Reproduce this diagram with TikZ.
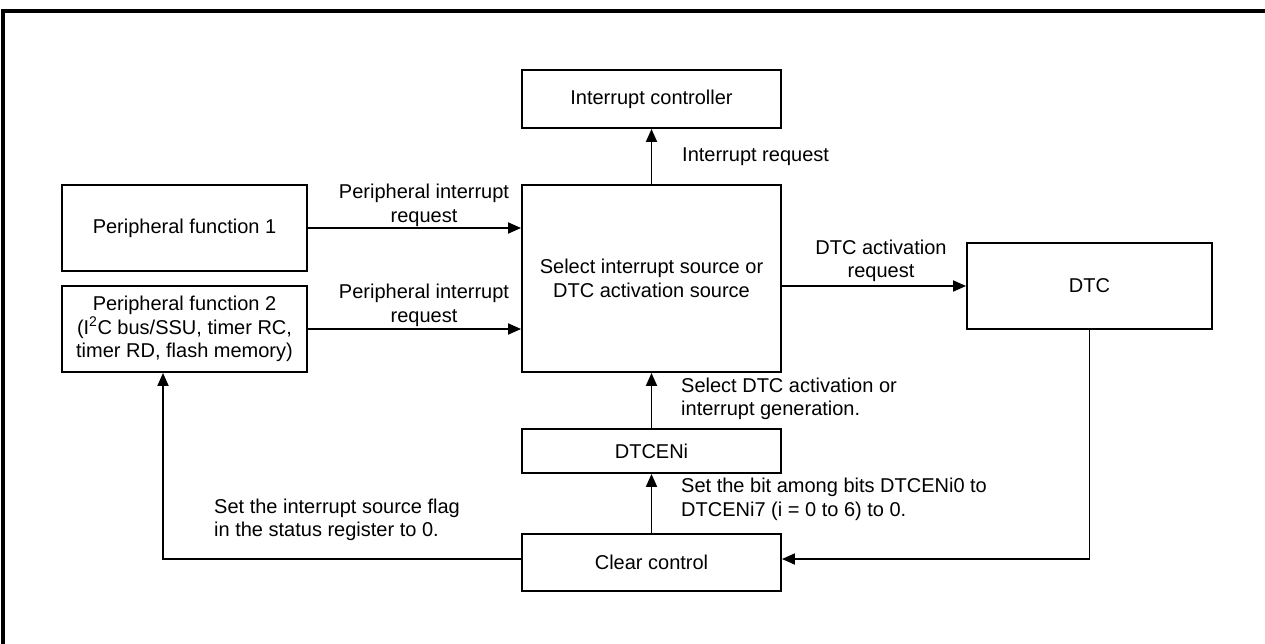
\documentclass[tikz,border=0pt]{standalone}
\usepackage{fontspec}
\setmainfont{Liberation Sans}
\usetikzlibrary{arrows.meta}
\begin{document}
\begin{tikzpicture}[x=1pt,y=-1pt,
  box/.style={draw,line width=1.9pt,rectangle,inner sep=0pt,align=center,font=\fontsize{20}{23.5}\selectfont},
  lbl/.style={inner sep=0pt,font=\fontsize{20}{23.5}\selectfont},
  arr/.style={line width=1.9pt,-{Triangle[length=13pt,width=11pt]}},
  frame/.style={line width=3.5pt}]
\useasboundingbox (0,0) rectangle (1265,643);
\begin{scope}
\clip (0,0) rectangle (1265,643);
\draw[frame] (3,660) -- (3,11) -- (1280,11);
\end{scope}
% boxes
\node[box,minimum width=259pt,minimum height=58pt] (ic) at (651.5,99) {Interrupt controller};
\node[box,minimum width=259pt,minimum height=187pt] (sel) at (651.5,278.5) {Select interrupt source or\\DTC activation source};
\node[box,minimum width=245pt,minimum height=86pt] (pf1) at (184.5,228) {Peripheral function 1};
\node[box,minimum width=245pt,minimum height=86pt] (pf2) at (184.5,329) {Peripheral function 2\\(I\textsuperscript{2}C bus/SSU, timer RC,\\timer RD, flash memory)};
\node[box,minimum width=245pt,minimum height=86pt] (dtc) at (1089.5,286) {DTC};
\node[box,minimum width=259pt,minimum height=44pt] (den) at (651.5,451) {DTCENi};
\node[box,minimum width=259pt,minimum height=57pt] (clr) at (651.5,562.5) {Clear control};
% connectors
\draw[arr] (pf1.east) -- (pf1.east -| sel.west);
\draw[arr] (pf2.east) -- (pf2.east -| sel.west);
\draw[arr] (dtc.west -| sel.east) -- (dtc.west);
\draw[arr] (sel.north) -- (ic.south);
\draw[arr] (den.north) -- (sel.south);
\draw[arr] (clr.north) -- (den.south);
\draw[arr] (dtc.south) |- ([yshift=3.5pt]clr.east);
\draw[arr] ([yshift=3.5pt]clr.west) -| ([xshift=-21.5pt]pf2.south);
% labels
\node[lbl,anchor=west] (l1) at (682,157) {Interrupt request};
\node[lbl,align=center] (l2) at (424,205.5) {Peripheral interrupt\\request};
\node[lbl,align=center] (l3) at (424,305.5) {Peripheral interrupt\\request};
\node[lbl,align=center] (l4) at (881,261) {DTC activation\\request};
\node[lbl,align=left,anchor=west] (l5) at (681,399) {Select DTC activation or\\interrupt generation.};
\node[lbl,align=left,anchor=west] (l6) at (681,499.5) {Set the bit among bits DTCENi0 to\\DTCENi7 (i = 0 to 6) to 0.};
\node[lbl,align=left,anchor=west] (l7) at (214,520) {Set the interrupt source flag\\in the status register to 0.};
\end{tikzpicture}
\end{document}
